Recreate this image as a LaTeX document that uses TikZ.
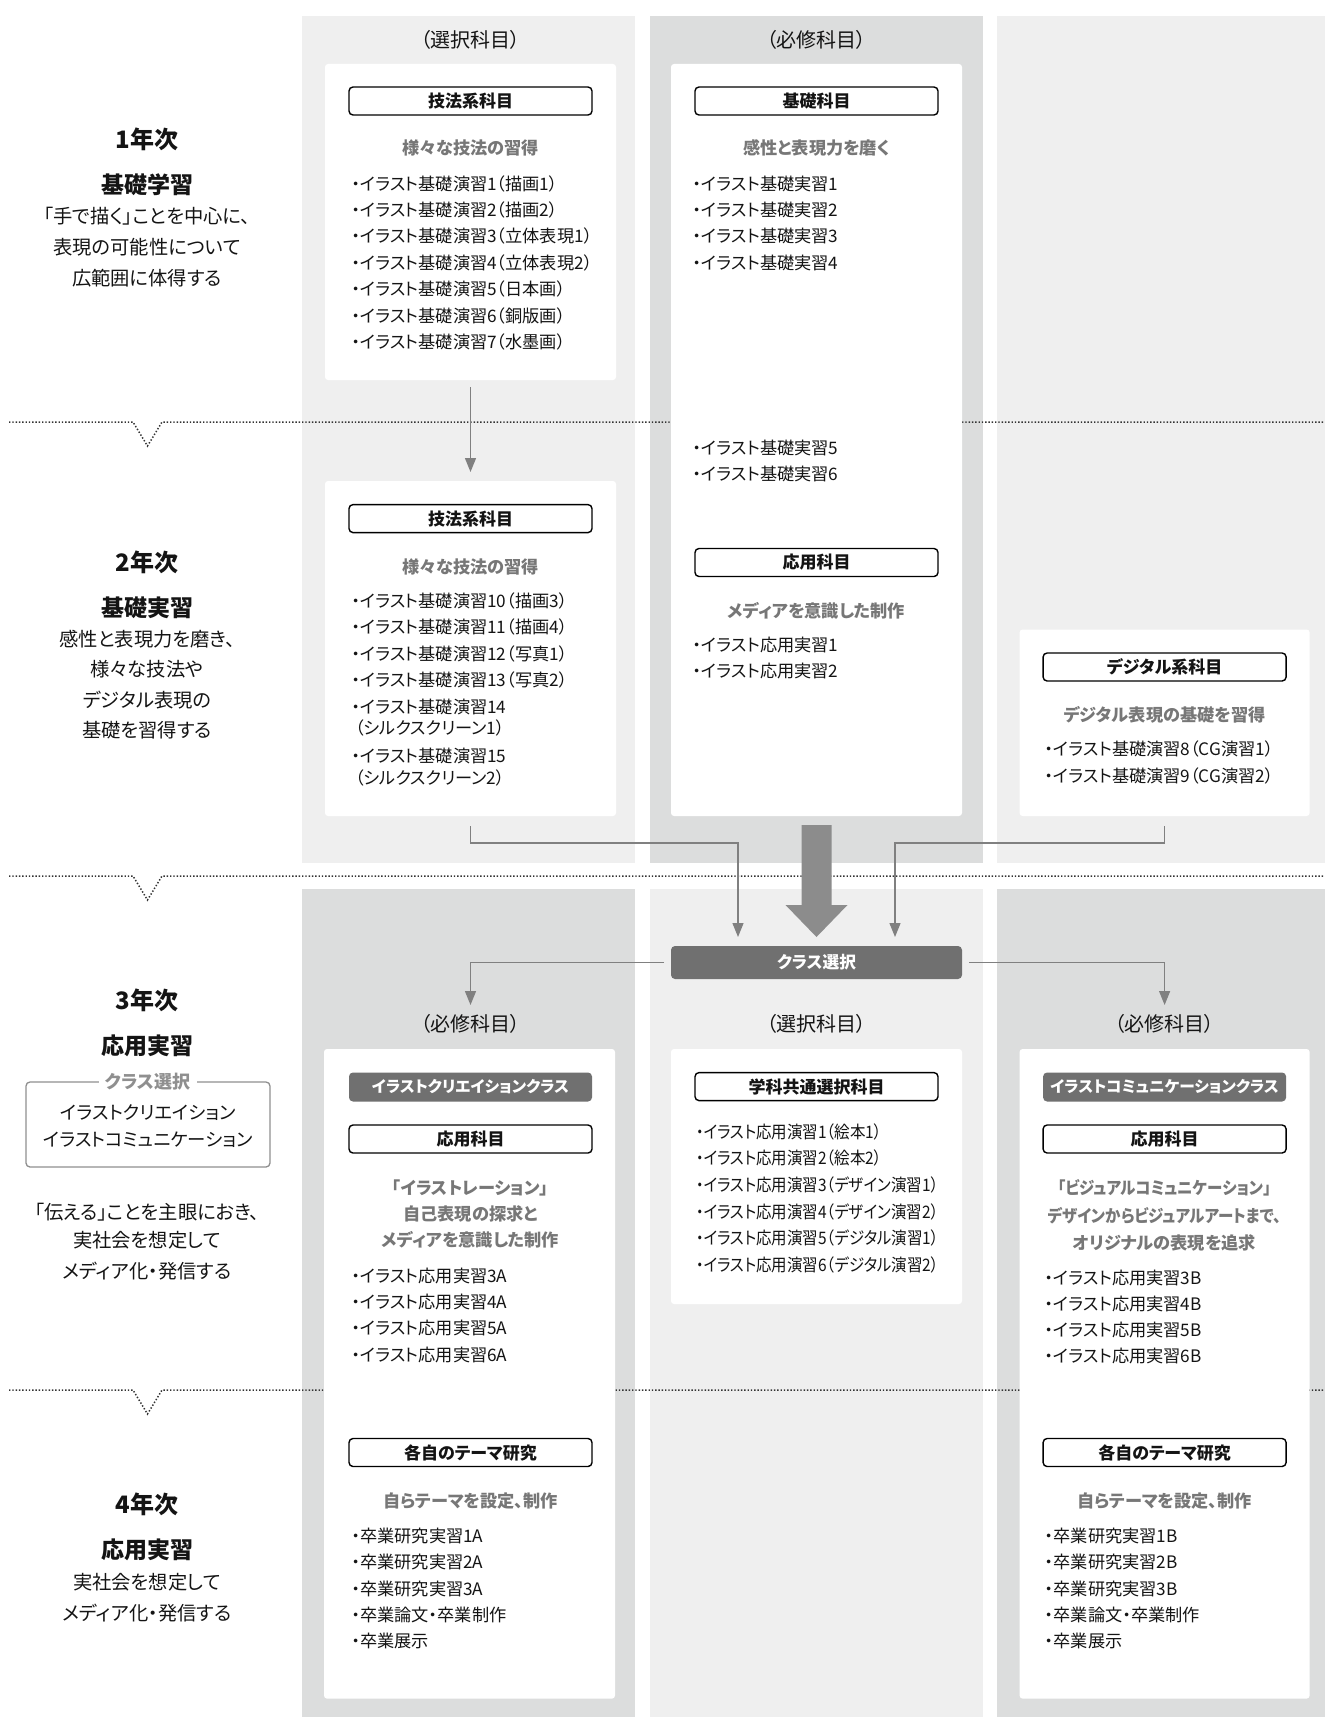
\documentclass[tikz,border=0pt]{standalone}
\usepackage{fontspec}
\setmainfont{Noto Sans CJK JP}[RawFeature={+palt}]
\newfontfamily\condjp{Noto Sans CJK JP}[RawFeature={+palt},FakeStretch=0.9]
\usetikzlibrary{arrows.meta}
\definecolor{lightcol}{HTML}{EFEFEF}
\definecolor{darkcol}{HTML}{DCDDDD}
\definecolor{darkboxcol}{HTML}{707070}
\definecolor{bigarrowcol}{HTML}{8C8C8C}
\definecolor{conncol}{HTML}{808080}
\definecolor{subgray}{HTML}{777777}
\definecolor{dotcol}{HTML}{333333}
\definecolor{framecol}{HTML}{8F8F8F}
\definecolor{inkcol}{HTML}{141414}
\newcommand\fs[1]{\fontsize{#1}{#1}\selectfont}
\newcommand\mylist[5]{%
  \foreach \t [count=\k] in {#5} {
    \node[itemtxt] (#1\k) at (#2, {#3+(\k-1)*#4}) {\t};
  }}
\tikzset{
  every node/.style={inner sep=0pt, outer sep=0pt, text=inkcol},
  wbox/.style={fill=white, rounded corners=3pt, anchor=north west},
  hdr/.style={draw=black, line width=1.4pt, rounded corners=4pt, fill=white,
    minimum width=243pt, minimum height=28pt, font=\fs{17}\bfseries},
  darkhdr/.style={fill=darkboxcol, rounded corners=4pt, minimum width=243pt,
    minimum height=29pt, text=white, font=\fs{15.7}\bfseries},
  subtxt/.style={text=subgray, font=\fs{17.2}\bfseries},
  itemtxt/.style={anchor=west, font=\fs{17.2}},
  kamoku/.style={font=\fs{20}},
  yeartxt/.style={font=\fs{24}\bfseries},
  stagetxt/.style={font=\fs{23}\bfseries},
  desctxt/.style={font=\fs{19.3}},
  connline/.style={draw=conncol, line width=1.3pt},
  connarrow/.style={connline, -{Triangle[width=11pt,length=14pt]}},
  dotline/.style={draw=dotcol, line width=1.5pt, dash pattern=on 1.4pt off 1.9pt},
}
\begin{document}
\begin{tikzpicture}[x=1pt, y=-1pt]
\useasboundingbox (0,0) rectangle (1325,1723);
% column backgrounds
\fill[lightcol] (302,16) rectangle (635,863);
\fill[darkcol] (650,16) rectangle (983,863);
\fill[lightcol] (997,16) rectangle (1325,863);
\fill[darkcol] (302,889) rectangle (635,1717);
\fill[lightcol] (650,889) rectangle (983,1717);
\fill[darkcol] (997,889) rectangle (1325,1717);
% dotted year separators
\foreach \yy in {422,876,1390} {
  \draw[dotline] (9,\yy) -- (133,\yy) -- (147.5,\yy+24) -- (162,\yy) -- (1325,\yy);
}
% white boxes
\node[wbox, minimum width=291pt, minimum height=316pt] (b1) at (325,64) {};
\node[wbox, minimum width=291pt, minimum height=335pt] (b2) at (325,481) {};
\node[wbox, minimum width=291pt, minimum height=752pt] (b3) at (671,64) {};
\node[wbox, minimum width=290pt, minimum height=186.5pt] (b4) at (1019.6,629.5) {};
\node[wbox, minimum width=291pt, minimum height=649.6pt] (b5) at (324,1049) {};
\node[wbox, minimum width=291pt, minimum height=255pt] (b6) at (671,1049) {};
\node[wbox, minimum width=290pt, minimum height=649.6pt] (b7) at (1019.6,1049) {};

% ---------- left column texts
\node[yeartxt] (y1) at (147,139.5) {1年次};
\node[stagetxt] (s1) at (147,184.6) {基礎学習};
\node[desctxt] (d1a) at (147,216.5) {「手で描く」ことを中心に、};
\node[desctxt] (d1b) at (147,247) {表現の可能性について};
\node[desctxt] (d1c) at (147,278) {広範囲に体得する};

\node[yeartxt] (y2) at (147,562.5) {2年次};
\node[stagetxt] (s2) at (147,607.6) {基礎実習};
\node[desctxt] (d2a) at (147,639.4) {感性と表現力を磨き、};
\node[desctxt] (d2b) at (147,669) {様々な技法や};
\node[desctxt] (d2c) at (147,700) {デジタル表現の};
\node[desctxt] (d2d) at (147,730.6) {基礎を習得する};

\node[yeartxt] (y3) at (147,1000) {3年次};
\node[stagetxt] (s3) at (147,1046) {応用実習};
\node[draw=framecol, line width=1.3pt, rounded corners=4pt, minimum width=244pt, minimum height=85pt] (cf) at (148,1124.5) {};
\node[fill=white, inner xsep=6pt, inner ysep=2pt, text=framecol, font=\fs{18}\bfseries] (cfl) at (cf.north) {クラス選択};
\node[font=\fs{18.4}] (cf1) at (148,1113) {イラストクリエイション};
\node[font=\fs{18.4}] (cf2) at (148,1140) {イラストコミュニケーション};
\node[desctxt] (d3a) at (147,1212) {「伝える」ことを主眼におき、};
\node[desctxt] (d3b) at (147,1240) {実社会を想定して};
\node[desctxt] (d3c) at (147,1271) {メディア化・発信する};

\node[yeartxt] (y4) at (147,1504) {4年次};
\node[stagetxt] (s4) at (147,1550) {応用実習};
\node[desctxt] (d4a) at (147,1582) {実社会を想定して};
\node[desctxt] (d4b) at (147,1613) {メディア化・発信する};

% ---------- column 1, years 1-2
\node[kamoku] (k1) at (470.5,39.5) {（選択科目）};
\node[hdr] (h1) at (470.5,101) {技法系科目};
\node[subtxt] (t1) at (470.5,148) {様々な技法の習得};
\mylist{a}{351.6}{183.5}{26.4}{・イラスト基礎演習1（描画1）,・イラスト基礎演習2（描画2）,・イラスト基礎演習3（立体表現1）,・イラスト基礎演習4（立体表現2）,・イラスト基礎演習5（日本画）,・イラスト基礎演習6（銅版画）,・イラスト基礎演習7（水墨画）}

\node[hdr] (h2) at (470.5,518.6) {技法系科目};
\node[subtxt] (t2) at (470.5,567) {様々な技法の習得};
\node[itemtxt] (e1) at (351.6,601) {・イラスト基礎演習10（描画3）};
\node[itemtxt] (e2) at (351.6,627) {・イラスト基礎演習11（描画4）};
\node[itemtxt] (e3) at (351.6,654) {・イラスト基礎演習12（写真1）};
\node[itemtxt] (e4) at (351.6,680) {・イラスト基礎演習13（写真2）};
\node[itemtxt] (e5) at (351.6,706.5) {・イラスト基礎演習14};
\node[itemtxt] (e5b) at (355,728.4) {（シルクスクリーン1）};
\node[itemtxt] (e6) at (351.6,756) {・イラスト基礎演習15};
\node[itemtxt] (e6b) at (355,778) {（シルクスクリーン2）};

% ---------- column 2, years 1-2
\node[kamoku] (k2) at (816.5,39.5) {（必修科目）};
\node[hdr] (h3) at (816.5,101) {基礎科目};
\node[subtxt] (t3) at (816.5,148) {感性と表現力を磨く};
\mylist{c}{693}{183.5}{26.4}{・イラスト基礎実習1,・イラスト基礎実習2,・イラスト基礎実習3,・イラスト基礎実習4}
\mylist{d}{693}{448}{26.4}{・イラスト基礎実習5,・イラスト基礎実習6}
\node[hdr] (h4) at (816.5,562.5) {応用科目};
\node[subtxt] (t4) at (816.5,611) {メディアを意識した制作};
\mylist{f}{693}{645}{26.4}{・イラスト応用実習1,・イラスト応用実習2}

% ---------- column 3, year 2
\node[hdr] (h5) at (1164.6,667) {デジタル系科目};
\node[subtxt] (t5) at (1164.6,715) {デジタル表現の基礎を習得};
\mylist{g}{1045}{749}{26.7}{・イラスト基礎演習8（CG演習1）,・イラスト基礎演習9（CG演習2）}

% ---------- class selection and connectors
\node[darkhdr, minimum width=291pt, minimum height=33pt, font=\fs{16.7}\bfseries] (sel) at (816.5,962.5) {クラス選択};
\draw[connarrow, shorten <=7pt, shorten >=9pt] (b1.south) -- (b2.north);
\coordinate (j1) at (738,843);
\coordinate (j2) at (895,843);
\draw[connarrow, shorten <=10pt, shorten >=9pt] (b2.south) |- (j1) -- (j1 |- sel.north);
\draw[connarrow, shorten <=10pt, shorten >=9pt] (b4.south) |- (j2) -- (j2 |- sel.north);
\fill[bigarrowcol] (b3.south) ++(-15,9) -- ++(0,80) -- ++(-16,0) -- ++(31,32) -- ++(31,-32) -- ++(-16,0) -- ++(0,-80) -- cycle;
\coordinate (ta) at (470.5,1005);
\coordinate (tb) at (1164.6,1005);
\draw[connarrow, shorten <=7pt] (sel.west) -| (ta);
\draw[connarrow, shorten <=7pt] (sel.east) -| (tb);

% ---------- column 1, years 3-4
\node[kamoku] (k3) at (470.5,1024) {（必修科目）};
\node[darkhdr] (h6) at (470.5,1087) {イラストクリエイションクラス};
\node[hdr] (h7) at (470.5,1139) {応用科目};
\node[subtxt] (t6a) at (470.5,1188) {「イラストレーション」};
\node[subtxt] (t6b) at (470.5,1214) {自己表現の探求と};
\node[subtxt] (t6c) at (470.5,1240) {メディアを意識した制作};
\mylist{m}{351.6}{1275.6}{26.4}{・イラスト応用実習3A,・イラスト応用実習4A,・イラスト応用実習5A,・イラスト応用実習6A}
\node[hdr] (h8) at (470.5,1452.5) {各自のテーマ研究};
\node[subtxt] (t7) at (470.5,1501) {自らテーマを設定、制作};
\mylist{n}{351.6}{1536}{26.3}{・卒業研究実習1A,・卒業研究実習2A,・卒業研究実習3A,・卒業論文・卒業制作,・卒業展示}

% ---------- column 2, year 3
\node[kamoku] (k4) at (816.5,1024) {（選択科目）};
\node[hdr] (h9) at (816.5,1086.6) {学科共通選択科目};
\foreach \t [count=\k] in {・イラスト応用演習1（絵本1）,・イラスト応用演習2（絵本2）,・イラスト応用演習3（デザイン演習1）,・イラスト応用演習4（デザイン演習2）,・イラスト応用演習5（デジタル演習1）,・イラスト応用演習6（デジタル演習2）} {
  \node[itemtxt, font=\condjp\fs{17.2}] (p\k) at (696, {1131.7+(\k-1)*26.6}) {\t};
}

% ---------- column 3, years 3-4
\node[kamoku] (k5) at (1164.6,1024) {（必修科目）};
\node[darkhdr] (h10) at (1164.6,1087) {イラストコミュニケーションクラス};
\node[hdr] (h11) at (1164.6,1139) {応用科目};
\node[subtxt, font=\condjp\fs{17.2}\bfseries] (t8a) at (1164.6,1188) {「ビジュアルコミュニケーション」};
\node[subtxt, font=\condjp\fs{17.2}\bfseries] (t8b) at (1164.6,1216) {デザインからビジュアルアートまで、};
\node[subtxt] (t8c) at (1164.6,1242.7) {オリジナルの表現を追求};
\mylist{q}{1045}{1278}{25.9}{・イラスト応用実習3B,・イラスト応用実習4B,・イラスト応用実習5B,・イラスト応用実習6B}
\node[hdr] (h12) at (1164.6,1452.5) {各自のテーマ研究};
\node[subtxt] (t9) at (1164.6,1501) {自らテーマを設定、制作};
\mylist{r}{1045}{1536}{26.3}{・卒業研究実習1B,・卒業研究実習2B,・卒業研究実習3B,・卒業論文・卒業制作,・卒業展示}
\end{tikzpicture}
\end{document}
